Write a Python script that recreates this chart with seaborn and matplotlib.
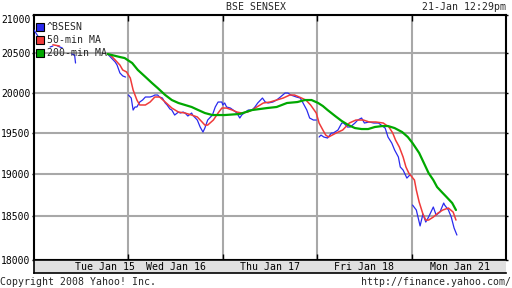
import numpy as np
import pandas as pd
import matplotlib
matplotlib.use("Agg")
import matplotlib.pyplot as plt
from matplotlib.lines import Line2D
from matplotlib.ticker import FixedLocator, NullLocator, FixedFormatter
import seaborn as sns

nan = np.nan

# ---------------- data (x in trading-day units, values in index points) -------------
title = "BSE SENSEX"
stamp = "21-Jan 12:29pm"
day_labels = ["Tue Jan 15", "Wed Jan 16", "Thu Jan 17", "Fri Jan 18", "Mon Jan 21"]
day_label_pos = [0.75, 1.5, 2.5, 3.5, 4.51]
day_bounds = [1, 2, 3, 4]
y_ticks = [18000, 18500, 19000, 19500, 20000, 20500, 21000]
series_names = ["^BSESN", "50-min MA", "200-min MA"]

bsesn_x = [0.00, 0.04, nan, 0.17, 0.20, nan, 0.25, 0.30, nan, 0.40, 0.43, 0.44, nan,
           0.78, 0.81, 0.86, 0.88, 0.91, 0.94, 0.97, nan,
           1.00, 1.03, 1.05, 1.07, 1.09, 1.12, 1.15, 1.18, 1.20, 1.23, 1.26, 1.28, 1.31,
           1.33, 1.36, 1.39, 1.41, 1.44, 1.46, 1.49, 1.53, 1.55, 1.58, 1.60, 1.63, 1.67,
           1.68, 1.71, 1.73, 1.76, 1.79, 1.81, 1.84, 1.86, 1.89, 1.92, 1.95, 1.99,
           2.00, 2.02, 2.04, 2.08, 2.11, 2.15, 2.18, 2.20, 2.24, 2.27, 2.31, 2.34, 2.37,
           2.42, 2.45, 2.48, 2.53, 2.57, 2.61, 2.66, 2.69, 2.72, 2.78, 2.82, 2.85, 2.89,
           2.92, 2.96, 2.99, nan,
           3.02, 3.04, 3.07, 3.11, 3.15, 3.17, 3.22, 3.26, 3.28, 3.32, 3.35, 3.40, 3.43,
           3.47, 3.50, 3.55, 3.60, 3.65, 3.69, 3.72, 3.75, 3.79, 3.82, 3.86, 3.88, 3.91,
           3.95, 3.98, 3.99, nan,
           4.01, 4.05, 4.09, 4.12, 4.15, 4.18, 4.23, 4.26, 4.30, 4.34, 4.35, 4.39, 4.42,
           4.45, 4.48]
bsesn_v = [20803, 20725, nan, 20581, 20594, nan, 20594, 20568, nan, 20491, 20478, 20375, nan,
           20491, 20452, 20388, 20349, 20248, 20210, 20196, nan,
           19969, 19931, 19781, 19819, 19819, 19881, 19906, 19944, 19944, 19944, 19956, 19969, 19969,
           19944, 19931, 19869, 19844, 19794, 19781, 19719, 19756, 19744, 19756, 19744, 19707, 19744,
           19719, 19682, 19657, 19571, 19509, 19558, 19657, 19682, 19719, 19819, 19881, 19881,
           19844, 19869, 19819, 19806, 19781, 19744, 19682, 19719, 19756, 19781, 19781, 19819, 19869,
           19931, 19881, 19869, 19881, 19906, 19944, 19994, 19994, 19969, 19944, 19931, 19869, 19781,
           19682, 19657, 19657, nan,
           19448, 19472, 19448, 19436, 19497, 19497, 19534, 19620, 19620, 19571, 19571, 19620, 19657,
           19682, 19620, 19633, 19620, 19620, 19583, 19558, 19448, 19374, 19290, 19205, 19085, 19048,
           18952, 18988, 18988, nan,
           18633, 18575, 18390, 18528, 18435, 18493, 18610, 18516, 18551, 18657, 18633, 18575, 18493,
           18366, 18285]

ma50_x = [0.20, 0.27, nan,
          0.78, 0.81, 0.86, 0.91, 0.94, 0.98, 1.02, 1.05, 1.09, 1.12, 1.18, 1.23, 1.28, 1.33,
          1.39, 1.46, 1.53, 1.60, 1.67, 1.73, 1.78, 1.81, 1.84, 1.90, 1.95, 1.99,
          2.04, 2.10, 2.15, 2.20, 2.26, 2.31, 2.36, 2.43, 2.50, 2.57, 2.64, 2.71, 2.76, 2.81,
          2.88, 2.93, 2.99, 3.02, 3.06, 3.09, 3.12, 3.20, 3.27, 3.34, 3.41, 3.49, 3.55, 3.62,
          3.70, 3.76, 3.80, 3.83, 3.87, 3.91, 3.94, 3.97, 4.03, 4.05, 4.08, 4.12, 4.15, 4.18,
          4.23, 4.28, 4.33, 4.39, 4.44, 4.47]
ma50_v = [20610, 20594, nan,
          20491, 20478, 20414, 20349, 20286, 20261, 20184, 20032, 19906, 19844, 19844, 19881, 19944, 19944,
          19881, 19806, 19756, 19744, 19719, 19695, 19633, 19595, 19595, 19657, 19744, 19806,
          19806, 19781, 19756, 19744, 19756, 19781, 19819, 19869, 19881, 19906, 19931, 19969, 19969, 19944,
          19906, 19844, 19744, 19620, 19534, 19472, 19448, 19497, 19534, 19620, 19657, 19657, 19633, 19633,
          19620, 19571, 19497, 19411, 19326, 19205, 19085, 19012, 18929, 18810, 18669, 18528, 18458, 18458,
          18493, 18540, 18575, 18598, 18551, 18458]

ma200_x = [0.78, 0.91, 0.96, 1.04, 1.10, 1.18, 1.25, 1.31, 1.39, 1.46, 1.53, 1.60, 1.67, 1.74,
           1.81, 1.89, 1.95, 2.02, 2.18, 2.31, 2.47, 2.57, 2.68, 2.79, 2.87, 2.94, 3.01, 3.06,
           3.11, 3.19, 3.26, 3.33, 3.40, 3.47, 3.54, 3.61, 3.69, 3.75, 3.82, 3.90, 3.96, 4.01,
           4.08, 4.13, 4.18, 4.23, 4.27, 4.32, 4.37, 4.43, 4.47]
ma200_v = [20491, 20452, 20439, 20375, 20286, 20198, 20120, 20057, 19969, 19906, 19869, 19844, 19819, 19781,
           19744, 19719, 19719, 19719, 19732, 19781, 19806, 19819, 19869, 19881, 19906, 19906, 19869, 19831,
           19781, 19707, 19645, 19595, 19558, 19546, 19546, 19571, 19583, 19583, 19558, 19509, 19448, 19374,
           19254, 19133, 19012, 18929, 18846, 18786, 18728, 18657, 18575]

colors = ["#2a2aee", "#f03a3a", "#00a800"]
widths = [0.9, 1.1, 1.6]


def to_frame(xs, vs):
    df = pd.DataFrame({"x": xs, "v": vs})
    df["seg"] = df["v"].isna().cumsum()
    return df.dropna()


# ---------------- style -------------
sns.set_style("white")
plt.rcParams["font.family"] = ["DejaVu Sans Mono"]
FS = 7.1

fig = plt.figure(figsize=(5.12, 2.88), dpi=100)
W, H = 512, 288
ax = fig.add_axes([34 / W, 28 / H, 472 / W, 245 / H])

for (xs, vs), c, lw in zip([(bsesn_x, bsesn_v), (ma50_x, ma50_v), (ma200_x, ma200_v)],
                           colors, widths):
    d = to_frame(xs, vs)
    sns.lineplot(data=d, x="x", y="v", units="seg", estimator=None, sort=False,
                 color=c, lw=lw, ax=ax, legend=False, zorder=3)

ax.set_yscale("log")
ax.set_xlim(0, 5)
ax.set_ylim(18000, 21000)
ax.yaxis.set_major_locator(FixedLocator(y_ticks))
ax.yaxis.set_major_formatter(FixedFormatter([str(t) for t in y_ticks]))
ax.yaxis.set_minor_locator(NullLocator())
ax.set_xticks(day_bounds)
ax.set_xticklabels([])
ax.set_xlabel("")
ax.set_ylabel("")

ax.tick_params(axis="y", which="major", direction="out", length=1.6, width=1,
               left=True, right=True, labelleft=True, labelright=False,
               pad=0.8, labelsize=7.0, colors="black")
ax.tick_params(axis="x", which="major", direction="in", length=4, width=1,
               top=True, bottom=True, labelbottom=False, colors="black")

ax.grid(True, which="major", color="#a8a8a8", lw=1.5)
ax.set_axisbelow(True)
for s in ax.spines.values():
    s.set_color("black")
    s.set_linewidth(1.5)
    s.set_visible(True)

# shift top tick label down like the reference
for lab in ax.get_yticklabels():
    if lab.get_text() == "21000":
        lab.set_va("top")

# legend
handles = [Line2D([], [], marker="s", ls="none", markersize=5.2, markerfacecolor=c,
                  markeredgecolor="black", markeredgewidth=0.8) for c in colors]
ax.legend(handles, series_names, loc="upper left", bbox_to_anchor=(3 / 472, 1 - 7 / 245),
          frameon=False, borderaxespad=0, borderpad=0, handlelength=0.7,
          handletextpad=0.3, labelspacing=0.32, fontsize=FS)

# date label strip
ax2 = fig.add_axes([34 / W, 15 / H, 472 / W, 13 / H], facecolor="#e0e0e0")
ax2.set_xlim(0, 5)
ax2.set_ylim(0, 1)
ax2.set_xticks([])
ax2.set_yticks([])
for s in ax2.spines.values():
    s.set_color("black")
    s.set_linewidth(1.2)
ax2.spines["right"].set_visible(False)
for p, t in zip(day_label_pos, day_labels):
    ax2.text(p, 0.45, t, ha="center", va="center", fontsize=FS, color="black")

fig.text(256 / W, 1 - 7 / H, title, ha="center", va="center", fontsize=FS)
fig.text(506 / W, 1 - 7 / H, stamp, ha="right", va="center", fontsize=FS)
fig.text(0.5 / W, 1 - 282 / H, "Copyright 2008 Yahoo! Inc.", ha="left", va="center", fontsize=FS)
fig.text(511 / W, 1 - 282 / H, "http://finance.yahoo.com/", ha="right", va="center", fontsize=FS)

fig.savefig("out.png", dpi=100, facecolor="white")
